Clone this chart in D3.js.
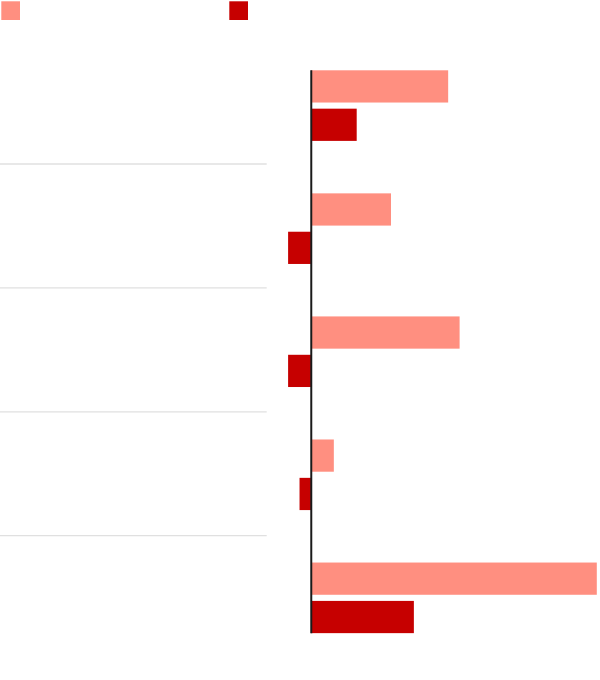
<!DOCTYPE html>
<html>
<head>
<meta charset="utf-8">
<script src="https://cdn.jsdelivr.net/npm/d3@7"></script>
<style>
  html, body { margin: 0; padding: 0; background: #fff; }
  svg { display: block; }
</style>
</head>
<body>
<svg id="chart" width="600" height="680"></svg>
<script>
// ---- data ----
const categories = ["A", "B", "C", "D", "E"];
const seriesNames = ["light", "dark"];
const seriesLight = [12, 7, 13, 2, 25];
const seriesDark = [4, -2, -2, -1, 9];
const seriesColors = ["#ff8f80", "#c60000"];

// ---- layout ----
const svg = d3.select("#chart");

const allVals = seriesLight.concat(seriesDark);
const x = d3.scaleLinear()
  .domain([d3.min(allVals), d3.max(allVals)])
  .range([288.1, 596.8]);

// group band (bars)
const y0 = d3.scaleBand().domain(categories).range([40, 655.3]).padding(0);
// inner band (series)
const y1 = d3.scaleBand().domain(seriesNames).range([30.3, 100.9]).paddingInner(0.16).paddingOuter(0);
// separator band (left column)
const ySep = d3.scaleBand().domain(categories).range([40.1, 659.6]).padding(0);

const color = d3.scaleOrdinal().domain(seriesNames).range(seriesColors);

// ---- legend ----
const legend = svg.append("g");
const legendX = d3.scalePoint().domain(seriesNames).range([1.3, 229.3]);
legend.selectAll("rect")
  .data(seriesNames)
  .join("rect")
  .attr("x", d => legendX(d))
  .attr("y", 1.3)
  .attr("width", 18.7)
  .attr("height", 18.7)
  .attr("fill", d => color(d));

// ---- separators ----
svg.append("g").selectAll("line")
  .data(categories.slice(1))
  .join("line")
  .attr("x1", 0)
  .attr("x2", 266.7)
  .attr("y1", d => ySep(d))
  .attr("y2", d => ySep(d))
  .attr("stroke", "#e0e0e0")
  .attr("stroke-width", 1.3);

// ---- bars ----
const rows = categories.map((c, i) => ({
  cat: c,
  vals: [
    { key: "light", value: seriesLight[i] },
    { key: "dark", value: seriesDark[i] }
  ]
}));

const groups = svg.append("g").selectAll("g")
  .data(rows)
  .join("g")
  .attr("transform", d => `translate(0,${y0(d.cat)})`);

groups.selectAll("rect")
  .data(d => d.vals)
  .join("rect")
  .attr("x", d => x(Math.min(0, d.value)))
  .attr("width", d => Math.abs(x(d.value) - x(0)))
  .attr("y", d => y1(d.key))
  .attr("height", y1.bandwidth())
  .attr("fill", d => color(d.key));

// ---- zero axis line ----
const firstTop = y0(categories[0]) + y1(seriesNames[0]);
const lastBottom = y0(categories[categories.length - 1]) + y1(seriesNames[seriesNames.length - 1]) + y1.bandwidth();
svg.append("line")
  .attr("x1", x(0) + 0.3)
  .attr("x2", x(0) + 0.3)
  .attr("y1", firstTop)
  .attr("y2", lastBottom)
  .attr("stroke", "#1a1a1a")
  .attr("stroke-width", 2);
</script>
</body>
</html>
